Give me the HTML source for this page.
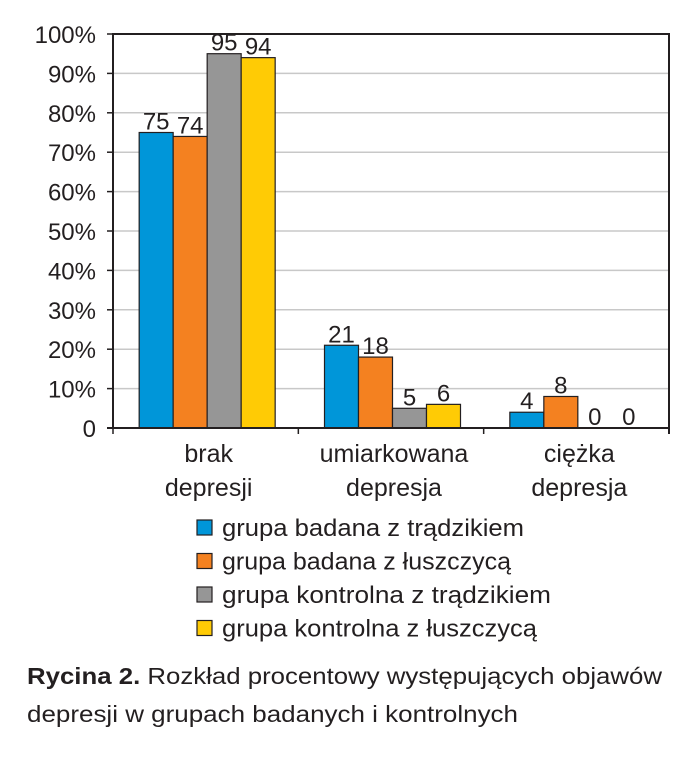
<!DOCTYPE html>
<html><head><meta charset="utf-8"><style>
body{margin:0;background:#fff;width:700px;height:755px;overflow:hidden;font-family:"Liberation Sans",sans-serif}
svg text{font-family:"Liberation Sans",sans-serif;fill:#231f20}
</style></head><body>
<svg id="chart" width="700" height="755" xmlns="http://www.w3.org/2000/svg">
<g id="grid"></g><g id="bars"></g><g id="axes"></g><g id="legend"></g>
<text x="27" y="684" font-size="23" textLength="635" lengthAdjust="spacingAndGlyphs"><tspan font-weight="bold">Rycina 2.</tspan> Rozkład procentowy występujących objawów</text>
<text x="27" y="722" font-size="23" textLength="491" lengthAdjust="spacingAndGlyphs">depresji w grupach badanych i kontrolnych</text>
</svg>
<script>
const categories = [["brak","depresji"],["umiarkowana","depresja"],["ciężka","depresja"]];
const seriesNames = ["grupa badana z trądzikiem","grupa badana z łuszczycą","grupa kontrolna z trądzikiem","grupa kontrolna z łuszczycą"];
const legendWidths = [302,289,329,315];
const seriesColors = ["#0096d9","#f48120","#969696","#ffcb05"];
const s1 = [75,21,4];
const s2 = [74,18,8];
const s3 = [95,5,0];
const s4 = [94,6,0];
const series = [s1,s2,s3,s4];
const yTicks = [0,10,20,30,40,50,60,70,80,90,100];
const yTickLabels = ["0","10%","20%","30%","40%","50%","60%","70%","80%","90%","100%"];

const NS="http://www.w3.org/2000/svg";
const X0=113,X1=669,Y0=428,Y1=34;
const catW=(X1-X0)/categories.length, barW=34;
const y=v=>Y0-(v/100)*(Y0-Y1);
const xCat=i=>X0+catW*(i+0.5);
function mk(tag,attrs,parent){const e=document.createElementNS(NS,tag);for(const k in attrs)e.setAttribute(k,attrs[k]);document.getElementById(parent).appendChild(e);return e;}

yTicks.forEach((t,i)=>{
  if(t>0&&t<100){const g=mk("line",{x1:X0,x2:X1,y1:y(t),y2:y(t),stroke:"#c8c8c8","stroke-width":1.5},"grid");
  
  }
  const tk=mk("line",{x1:X0-6,x2:X0,y1:y(t),y2:y(t),stroke:"#231f20","stroke-width":1.5},"axes");
  
  
  const l=mk("text",{x:X0-17,y:y(t)+9,"text-anchor":"end","font-size":24},"axes");
  l.textContent=yTickLabels[i];
  
  
});
series.forEach((s,si)=>{
  s.forEach((v,ci)=>{
    const x=xCat(ci)+1.5-2*barW+si*barW;
    if(v>0){const r=mk("rect",{x:x,y:y(v),width:barW,height:Y0-y(v),fill:seriesColors[si],stroke:"#231f20","stroke-width":1.2},"bars");
    
    }
    const t=mk("text",{x:x+barW/2,y:y(v)-3,"text-anchor":"middle","font-size":24},"bars");
    t.textContent=v;
    
    
  });
});
const frame=mk("path",{d:`M${X0},${Y0}V${Y1}H${X1}V${Y0+6}`,fill:"none",stroke:"#231f20","stroke-width":2},"axes");


const xa=mk("line",{x1:X0-6,x2:X1,y1:Y0,y2:Y0,stroke:"#231f20","stroke-width":2},"axes");


for(let i=0;i<=categories.length;i++){
  const tk=mk("line",{x1:X0+catW*i,x2:X0+catW*i,y1:Y0,y2:Y0+6,stroke:"#231f20","stroke-width":1.5},"axes");
  
  
}
categories.forEach((c,i)=>{
  c.forEach((line,j)=>{
    const t=mk("text",{x:xCat(i)+3,y:462+j*34,"text-anchor":"middle","font-size":25},"axes");
    t.textContent=line;
    
    
  });
});
seriesNames.forEach((n,i)=>{
  const yy=520+i*33.5;
  const r=mk("rect",{x:197,y:yy,width:15,height:15,fill:seriesColors[i],stroke:"#231f20","stroke-width":1.2},"legend");
  
  
  const t=mk("text",{x:222,y:yy+16,"font-size":24,textLength:legendWidths[i],lengthAdjust:"spacingAndGlyphs"},"legend");
  t.textContent=n;
  
  
});
</script>
</body></html>
